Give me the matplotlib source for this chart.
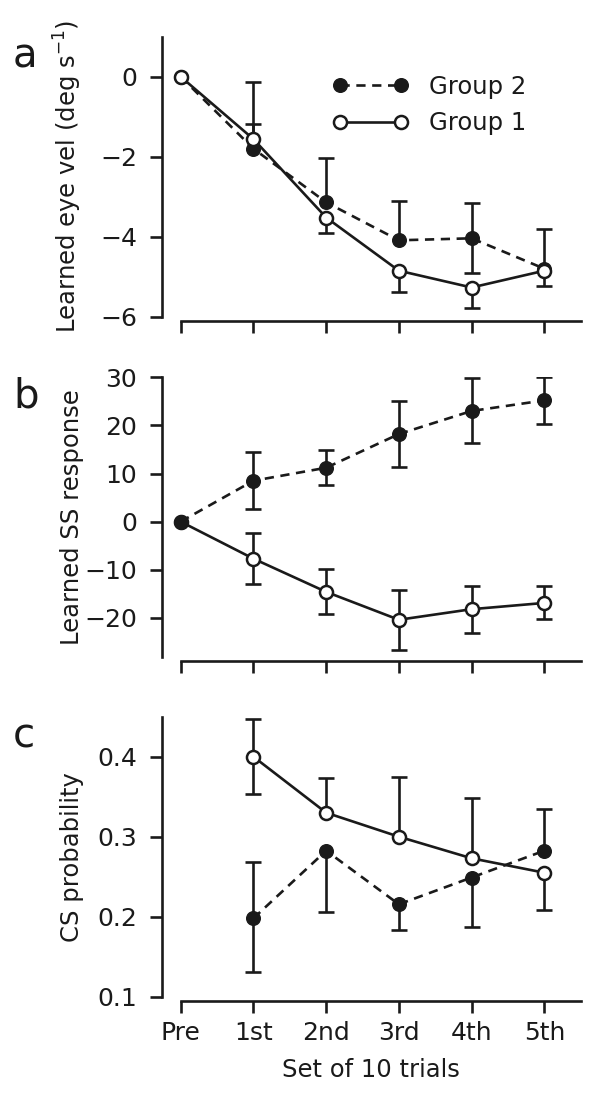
import numpy as np
import matplotlib
matplotlib.use("Agg")
import matplotlib.pyplot as plt

nan = np.nan
x_labels = ['Pre', '1st', '2nd', '3rd', '4th', '5th']

# Panel a: learned eye velocity
eye_g2 = [0, -1.80, -3.14, -4.09, -4.04, -4.80]
eye_g2_hi = [nan, -0.12, -2.02, -3.10, -3.16, -3.80]
eye_g2_lo = [nan, nan, nan, nan, -4.91, nan]
eye_g1 = [0, -1.56, -3.52, -4.85, -5.27, -4.85]
eye_g1_hi = [nan, -1.18, nan, nan, nan, nan]
eye_g1_lo = [nan, nan, -3.91, -5.38, -5.78, -5.22]

# Panel b: learned SS response
ss_g2 = [0, 8.5, 11.2, 18.2, 23.0, 25.2]
ss_g2_hi = [nan, 14.4, 14.8, 25.0, 29.8, 30.0]
ss_g2_lo = [nan, 2.6, 7.6, 11.4, 16.3, 20.3]
ss_g1 = [0, -7.7, -14.6, -20.4, -18.2, -16.9]
ss_g1_hi = [nan, -2.4, -9.9, -14.2, -13.4, -13.4]
ss_g1_lo = [nan, -13.0, -19.3, -26.7, -23.2, -20.3]

# Panel c: CS probability
cs_g2 = [nan, 0.198, 0.2825, 0.2155, 0.249, 0.2825]
cs_g2_hi = [nan, 0.269, nan, nan, nan, 0.335]
cs_g2_lo = [nan, 0.131, 0.206, 0.183, 0.1875, nan]
cs_g1 = [nan, 0.400, 0.330, 0.300, 0.273, 0.255]
cs_g1_hi = [nan, 0.447, 0.373, 0.375, 0.349, nan]
cs_g1_lo = [nan, 0.353, nan, nan, nan, 0.208]

INK = '#1a1a1a'
plt.rcParams['font.family'] = ['DejaVu Sans']
plt.rcParams['font.size'] = 18
plt.rcParams['text.color'] = INK
plt.rcParams['axes.labelcolor'] = INK
plt.rcParams['xtick.color'] = INK
plt.rcParams['ytick.color'] = INK

W, H = 589, 1094
fig = plt.figure(figsize=(W / 100, H / 100), dpi=100)

left = 161.7 / W
width = 419 / W
height = 280 / H
bottoms = [(H - 316.7) / H, (H - 657.3) / H, (H - 996.7) / H]
x = np.arange(len(x_labels))

LW = 1.9
TICKFS = 18
LABFS = 17.5


def draw_err(ax, xv, yv, ends, z=2):
    for xi, yi, ei in zip(xv, yv, ends):
        if np.isnan(ei) or np.isnan(yi):
            continue
        ax.vlines(xi, yi, ei, color=INK, lw=LW, zorder=z)
        ax.plot([xi], [ei], ls='none', marker='_', ms=12, mew=LW, color=INK, zorder=z)


def style(ax, ylim, yticks, offset, show_xlabels):
    ax.set_xlim(-0.261, 5.5)
    ax.set_ylim(*ylim)
    for s in ['top', 'right']:
        ax.spines[s].set_visible(False)
    for s in ['left', 'bottom']:
        ax.spines[s].set_linewidth(LW)
        ax.spines[s].set_color(INK)
    ax.spines['bottom'].set_bounds(0, 5.5)
    ax.spines['bottom'].set_position(('outward', offset))
    ax.set_xticks(x)
    ax.set_yticks(yticks)
    ax.tick_params(axis='both', length=8.6, width=LW, direction='out', labelsize=TICKFS)
    ax.tick_params(axis='y', pad=9)
    ax.tick_params(axis='x', pad=6)
    if show_xlabels:
        ax.set_xticklabels(x_labels)
    else:
        ax.set_xticklabels([])
    ax.patch.set_visible(False)


def plot_group(ax, y, filled, label=None, z=3):
    if filled:
        return ax.plot(x, y, color=INK, lw=LW, dashes=(3.5, 2.5), marker='o', ms=9.8,
                       mfc=INK, mec=INK, mew=1.0, label=label, zorder=z, clip_on=False)[0]
    return ax.plot(x, y, color=INK, lw=LW, ls='-', marker='o', ms=9.4,
                   mfc='white', mec=INK, mew=1.8, label=label, zorder=z, clip_on=False)[0]


# ---- Panel a
axa = fig.add_axes([left, bottoms[0], width, height])
draw_err(axa, x, eye_g2, eye_g2_hi)
draw_err(axa, x, eye_g2, eye_g2_lo)
draw_err(axa, x, eye_g1, eye_g1_hi)
draw_err(axa, x, eye_g1, eye_g1_lo)
h2 = plot_group(axa, eye_g2, True, 'Group 2', z=3)
h1 = plot_group(axa, eye_g1, False, 'Group 1', z=4)
style(axa, (-6, 1), [0, -2, -4, -6], 2.9, False)
axa.set_ylabel('Learned eye vel (deg s$^{-1}$)', fontsize=LABFS)
axa.yaxis.set_label_coords(-0.185, 0.5)
fs_leg = 17.5
axa.legend(handles=[h2, h1], loc='upper left', bbox_to_anchor=(332.7 / W, 1 - 75 / H),
           bbox_transform=fig.transFigure, frameon=False, numpoints=2, fontsize=fs_leg,
           handlelength=3.11, handletextpad=0.85, labelspacing=0.5, borderpad=0,
           borderaxespad=0)

# ---- Panel b
axb = fig.add_axes([left, bottoms[1], width, height])
draw_err(axb, x, ss_g2, ss_g2_hi)
draw_err(axb, x, ss_g2, ss_g2_lo)
draw_err(axb, x, ss_g1, ss_g1_hi)
draw_err(axb, x, ss_g1, ss_g1_lo)
plot_group(axb, ss_g1, False, z=3)
plot_group(axb, ss_g2, True, z=4)
style(axb, (-28.2, 30), [30, 20, 10, 0, -10, -20], 2.5, False)
axb.set_ylabel('Learned SS response', fontsize=LABFS)
axb.yaxis.set_label_coords(-0.185, 0.5)

# ---- Panel c
axc = fig.add_axes([left, bottoms[2], width, height])
draw_err(axc, x, cs_g2, cs_g2_hi)
draw_err(axc, x, cs_g2, cs_g2_lo)
draw_err(axc, x, cs_g1, cs_g1_hi)
draw_err(axc, x, cs_g1, cs_g1_lo)
plot_group(axc, cs_g2, True, z=3)
plot_group(axc, cs_g1, False, z=4)
style(axc, (0.1, 0.45), [0.1, 0.2, 0.3, 0.4], 2.9, True)
axc.set_ylabel('CS probability', fontsize=LABFS)
axc.yaxis.set_label_coords(-0.185, 0.5)
axc.set_xlabel('Set of 10 trials', fontsize=LABFS, labelpad=9)

# Panel letters
for letter, yb in [('a', 67), ('b', 407), ('c', 747)]:
    fig.text(13 / W, 1 - yb / H, letter, fontsize=29, va='baseline', ha='left')

fig.savefig('out.png', dpi=100)
